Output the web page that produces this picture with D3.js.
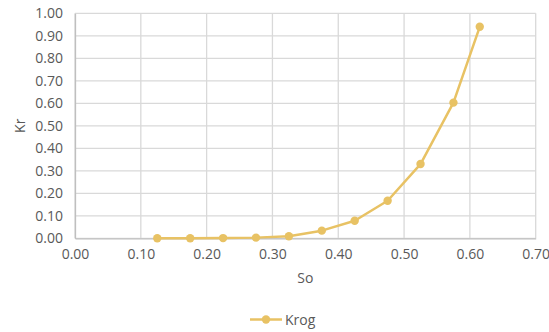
<!DOCTYPE html>
<html><head><meta charset="utf-8">
<script src="https://cdn.jsdelivr.net/npm/d3@7"></script>
<style>body{margin:0;background:#fff}svg{display:block}text{font-family:"Open Sans","Liberation Sans",sans-serif;fill:#595959}</style>
</head><body>
<svg id="c" width="549" height="332"></svg>
<script>
const so = [0.125,0.175,0.225,0.275,0.325,0.375,0.425,0.475,0.525,0.575,0.615];
const krog = [0.000,0.000,0.001,0.003,0.009,0.034,0.078,0.167,0.330,0.603,0.940];
const xTicks = [0,0.1,0.2,0.3,0.4,0.5,0.6,0.7];
const yTicks = [0,0.1,0.2,0.3,0.4,0.5,0.6,0.7,0.8,0.9,1.0];
const seriesName = "Krog";
const color = "#E8C264";

const svg = d3.select("#c");
const L=75,R=535.7,T=13.3,B=238.3;
const x = d3.scaleLinear().domain([0,0.7]).range([L,R]);
const y = d3.scaleLinear().domain([0,1]).range([B,T]);

const g = svg.append("g");
g.selectAll(".gx").data(xTicks).join("line")
  .attr("x1",d=>x(d)).attr("x2",d=>x(d)).attr("y1",T).attr("y2",B)
  .attr("stroke","#d9d9d9").attr("stroke-width",1.3);
g.selectAll(".gy").data(yTicks).join("line")
  .attr("x1",L).attr("x2",R).attr("y1",d=>y(d)).attr("y2",d=>y(d))
  .attr("stroke","#d9d9d9").attr("stroke-width",1.3);

const xa = svg.append("g").attr("transform",`translate(0,${B})`)
  .call(d3.axisBottom(x).tickValues(xTicks).tickFormat(d3.format(".2f")).tickSize(0).tickPadding(11));
xa.select(".domain").attr("stroke","#bfbfbf").attr("stroke-width",1.3);
xa.selectAll("text").attr("font-size","14px").style("fill","#595959");
const ya = svg.append("g").attr("transform",`translate(${L},0)`)
  .call(d3.axisLeft(y).tickValues(yTicks).tickFormat(d3.format(".2f")).tickSize(0).tickPadding(12));
ya.select(".domain").attr("stroke","#bfbfbf").attr("stroke-width",1.3);
ya.selectAll("text").attr("font-size","14px").style("fill","#595959");

svg.append("text").attr("x",(L+R)/2).attr("y",283).attr("text-anchor","middle").attr("font-size","14px").text("So");
svg.append("text").attr("transform",`translate(25,${(T+B)/2}) rotate(-90)`).attr("text-anchor","middle").attr("font-size","14px").text("Kr");

const data = so.map((d,i)=>({x:d,y:krog[i]}));
svg.append("path").datum(data)
  .attr("d",d3.line().x(d=>x(d.x)).y(d=>y(d.y)))
  .attr("fill","none").attr("stroke",color).attr("stroke-width",2.5).attr("stroke-linejoin","round");
svg.selectAll(".pt").data(data).join("circle")
  .attr("cx",d=>x(d.x)).attr("cy",d=>y(d.y)).attr("r",4.2).attr("fill",color);

const lg = svg.append("g");
lg.append("line").attr("x1",250).attr("x2",282).attr("y1",319.5).attr("y2",319.5).attr("stroke",color).attr("stroke-width",2.5);
lg.append("circle").attr("cx",266).attr("cy",319.5).attr("r",4.2).attr("fill",color);
lg.append("text").attr("x",285).attr("y",324.5).attr("font-size","14px").text(seriesName);
</script>
</body></html>
